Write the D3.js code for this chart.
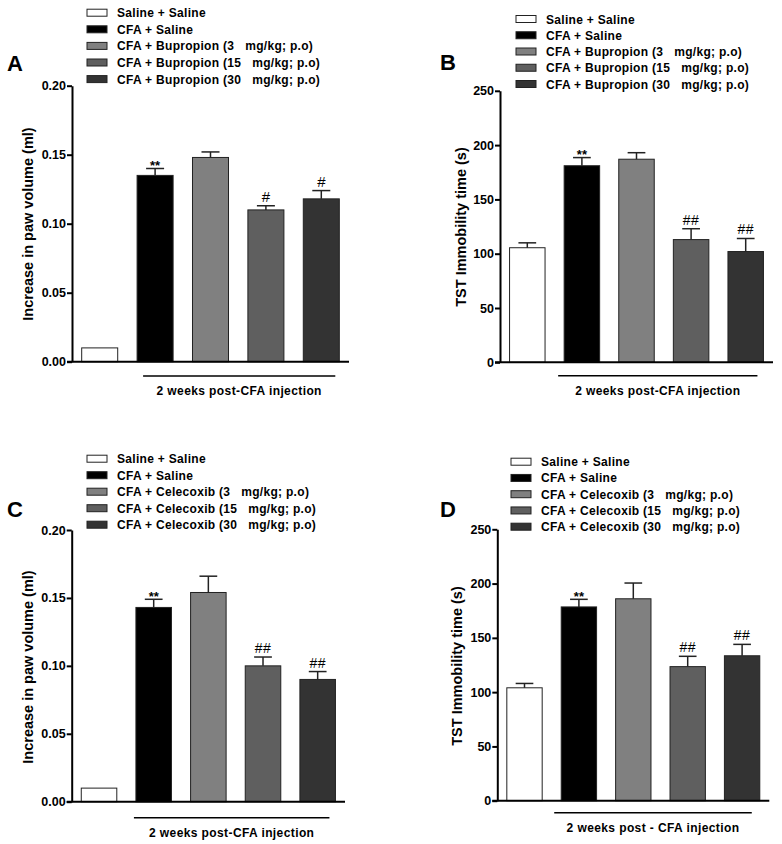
<!DOCTYPE html>
<html>
<head>
<meta charset="utf-8">
<script src="https://cdn.jsdelivr.net/npm/d3@7"></script>
<style>
  body { margin: 0; background: #fff; }
  svg { display: block; font-family: Arial, "Liberation Sans", sans-serif; }
  .legend text, .bracket-label, .tick text, .y-title { font-weight: bold; }
  .legend text { white-space: pre; }
</style>
</head>
<body>
<svg id="chart" width="782" height="844"></svg>
<script>
// groups (same order in every panel)
const groups = ['g1', 'g2', 'g3', 'g4', 'g5'];
const barColors = ['#ffffff', '#000000', '#808080', '#5f5f5f', '#333333'];

// legend labels
const legendBupropion = [
  'Saline + Saline',
  'CFA + Saline',
  'CFA + Bupropion (3   mg/kg; p.o)',
  'CFA + Bupropion (15   mg/kg; p.o)',
  'CFA + Bupropion (30   mg/kg; p.o)'
];
const legendCelecoxib = [
  'Saline + Saline',
  'CFA + Saline',
  'CFA + Celecoxib (3   mg/kg; p.o)',
  'CFA + Celecoxib (15   mg/kg; p.o)',
  'CFA + Celecoxib (30   mg/kg; p.o)'
];

// A: paw volume, bupropion
const pawBupropion = [0.010, 0.135, 0.148, 0.110, 0.118];
const pawBupropionErr = [0, 0.005, 0.004, 0.003, 0.006];
const pawBupropionMarks = ['', '**', '', '#', '#'];

// B: TST immobility, bupropion
const tstBupropion = [105.5, 181, 187, 113, 102];
const tstBupropionErr = [4.5, 7.5, 6, 10, 12];
const tstBupropionMarks = ['', '**', '', '##', '##'];

// C: paw volume, celecoxib
const pawCelecoxib = [0.010, 0.143, 0.154, 0.100, 0.090];
const pawCelecoxibErr = [0, 0.006, 0.012, 0.0065, 0.0058];
const pawCelecoxibMarks = ['', '**', '', '##', '##'];

// D: TST immobility, celecoxib
const tstCelecoxib = [104, 178.5, 186, 123.5, 133.5];
const tstCelecoxibErr = [4, 7, 14.5, 9.5, 10.5];
const tstCelecoxibMarks = ['', '**', '', '##', '##'];

// axis ticks
const pawTicks = [0, 0.05, 0.10, 0.15, 0.20];
const tstTicks = [0, 50, 100, 150, 200, 250];

const svg = d3.select('#chart');

/**
 * Draws one bar panel with legend, axes, error bars and marks
 */
function drawPanel(p) {
  const g = svg.append('g');

  const x = d3.scaleBand()
    .domain(groups)
    .range([p.axisX, p.xEnd])
    .paddingInner(0.35)
    .paddingOuter(0.175);

  const y = d3.scaleLinear()
    .domain([0, p.ticks[p.ticks.length - 1]])
    .range([p.y0, p.yTop]);

  // panel letter
  g.append('text')
    .attr('x', p.letterX).attr('y', p.letterY)
    .style('font-size', '22px').style('font-weight', 'bold')
    .text(p.letter);

  // legend
  const leg = g.append('g').attr('class', 'legend');
  p.legend.forEach((label, i) => {
    const cy = p.legY + i * p.legStep;
    leg.append('rect')
      .attr('x', p.legX).attr('y', cy - 3.5)
      .attr('width', 20).attr('height', 7)
      .attr('fill', barColors[i]).attr('stroke', '#222').attr('stroke-width', 1);
    leg.append('text')
      .attr('x', p.legX + 30).attr('y', cy + 4.5)
      .style('font-size', '12px')
      .style('letter-spacing', '0.3px')
      .text(label);
  });

  // bars
  g.selectAll('rect.bar')
    .data(p.values)
    .join('rect')
    .attr('class', 'bar')
    .attr('x', (d, i) => x(groups[i]))
    .attr('y', d => y(d))
    .attr('width', x.bandwidth())
    .attr('height', d => y(0) - y(d))
    .attr('fill', (d, i) => barColors[i])
    .attr('stroke', '#222')
    .attr('stroke-width', 1);

  // error bars (upper only)
  const cap = x.bandwidth() / 2;
  p.values.forEach((v, i) => {
    if (!p.errors[i]) return;
    const cx = x(groups[i]) + x.bandwidth() / 2;
    g.append('line')
      .attr('x1', cx).attr('x2', cx)
      .attr('y1', y(v)).attr('y2', y(v + p.errors[i]))
      .attr('stroke', '#222').attr('stroke-width', 1.5);
    g.append('line')
      .attr('x1', cx - cap / 2).attr('x2', cx + cap / 2)
      .attr('y1', y(v + p.errors[i])).attr('y2', y(v + p.errors[i]))
      .attr('stroke', '#222').attr('stroke-width', 1.5);
  });

  // significance marks
  p.values.forEach((v, i) => {
    const m = p.marks[i];
    if (!m) return;
    const star = m.startsWith('*');
    const cx = x(groups[i]) + x.bandwidth() / 2;
    const top = y(v + p.errors[i]);
    g.append('text')
      .attr('x', cx)
      .attr('y', star ? top + 1.5 : top - 4)
      .attr('text-anchor', 'middle')
      .style('font-size', star ? '13px' : (m === '#' ? '15px' : '14px'))
      .style('font-weight', star ? 'bold' : 'normal')
      .style('letter-spacing', m === '##' ? '0.5px' : '0')
      .text(m);
  });

  // y axis
  const yAxis = g.append('g')
    .attr('transform', `translate(${p.axisX},0)`)
    .call(d3.axisLeft(y).tickValues(p.ticks).tickSize(5).tickSizeOuter(0).tickFormat(p.fmt));
  yAxis.select('.domain').attr('stroke-width', 2);
  yAxis.selectAll('.tick line').attr('stroke-width', 2);
  yAxis.selectAll('.tick text')
    .attr('font-size', null)
    .attr('font-family', null)
    .style('font-size', '12.5px')
    .attr('x', -6);

  // x axis baseline
  g.append('line')
    .attr('x1', p.axisX - 5).attr('x2', p.xEnd)
    .attr('y1', y(0)).attr('y2', y(0))
    .attr('stroke', '#000').attr('stroke-width', 2);

  // y title
  g.append('text')
    .attr('class', 'y-title')
    .attr('transform', `translate(${p.titleX},${p.titleY}) rotate(-90)`)
    .attr('text-anchor', 'middle')
    .style('font-size', '14.5px')
    .text(p.yTitle);

  // bracket under the CFA groups
  const bx1 = x(groups[1]) + p.bracket[0];
  const bx2 = x(groups[4]) + x.bandwidth() + p.bracket[1];
  g.append('line')
    .attr('x1', bx1).attr('x2', bx2)
    .attr('y1', p.bracketY).attr('y2', p.bracketY)
    .attr('stroke', '#000').attr('stroke-width', 1.5);
  g.append('text')
    .attr('class', 'bracket-label')
    .attr('x', (bx1 + bx2) / 2).attr('y', p.bracketY + 19)
    .attr('text-anchor', 'middle')
    .style('font-size', '12px')
    .style('letter-spacing', '0.4px')
    .style('white-space', 'pre')
    .text(p.bracketLabel);
}

const fmtPaw = d3.format('.2f');
const fmtTst = d3.format('d');

drawPanel({
  letter: 'A', letterX: 7, letterY: 71,
  legend: legendBupropion, legX: 87, legY: 12.7, legStep: 16.6,
  values: pawBupropion, errors: pawBupropionErr, marks: pawBupropionMarks,
  ticks: pawTicks, fmt: fmtPaw,
  axisX: 72, xEnd: 349, y0: 361.7, yTop: 85.7,
  yTitle: 'Increase in paw volume (ml)', titleX: 33, titleY: 224,
  bracket: [6, -4], bracketY: 376, bracketLabel: '2 weeks post-CFA injection'
});

drawPanel({
  letter: 'B', letterX: 440, letterY: 70,
  legend: legendBupropion, legX: 516, legY: 19, legStep: 16.25,
  values: tstBupropion, errors: tstBupropionErr, marks: tstBupropionMarks,
  ticks: tstTicks, fmt: fmtTst,
  axisX: 500, xEnd: 773, y0: 362.3, yTop: 90.8,
  yTitle: 'TST Immobility time (s)', titleX: 466, titleY: 227,
  bracket: [-6, -6], bracketY: 375.7, bracketLabel: '2 weeks post-CFA injection'
});

drawPanel({
  letter: 'C', letterX: 7, letterY: 517,
  legend: legendCelecoxib, legX: 87, legY: 458.7, legStep: 16.5,
  values: pawCelecoxib, errors: pawCelecoxibErr, marks: pawCelecoxibMarks,
  ticks: pawTicks, fmt: fmtPaw,
  axisX: 71.7, xEnd: 345, y0: 801.7, yTop: 530,
  yTitle: 'Increase in paw volume (ml)', titleX: 33, titleY: 667,
  bracket: [-2, -6], bracketY: 817.7, bracketLabel: '2 weeks post-CFA injection'
});

drawPanel({
  letter: 'D', letterX: 440, letterY: 517,
  legend: legendCelecoxib, legX: 511, legY: 461.7, legStep: 16.25,
  values: tstCelecoxib, errors: tstCelecoxibErr, marks: tstCelecoxibMarks,
  ticks: tstTicks, fmt: fmtTst,
  axisX: 497.3, xEnd: 769.3, y0: 800.7, yTop: 529.3,
  yTitle: 'TST Immobility time (s)', titleX: 462, titleY: 666,
  bracket: [-7, -8], bracketY: 812.7, bracketLabel: '2 weeks post - CFA injection'
});
</script>
</body>
</html>
